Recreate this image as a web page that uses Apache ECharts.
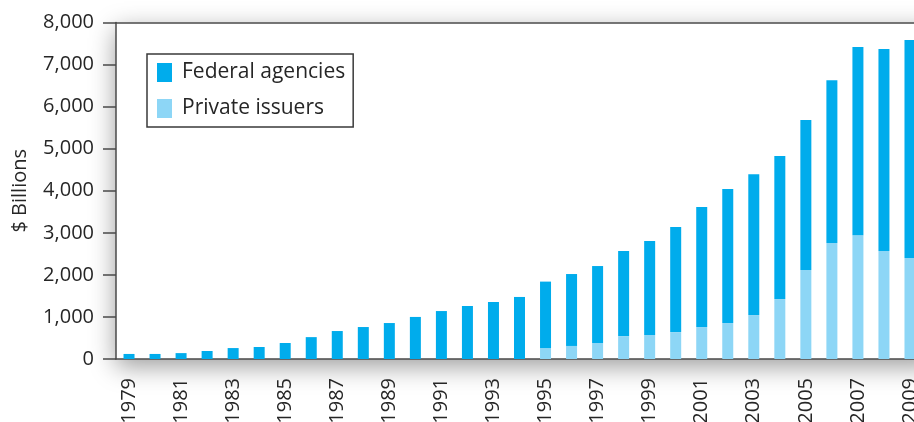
<!DOCTYPE html>
<html>
<head>
<meta charset="utf-8">
<script src="https://cdn.jsdelivr.net/npm/echarts@6/dist/echarts.min.js"></script>
<style>
  html, body { margin: 0; padding: 0; background: #fff; }
  #chart { width: 914px; height: 422px; }
</style>
</head>
<body>
<div id="chart"></div>
<script>
const years = [];
for (let y = 1979; y <= 2009; y++) years.push(String(y));

// total outstanding, $ billions
const totals = [120, 120, 140, 190, 260, 285, 380, 520, 665, 760, 855, 1000, 1140,
  1260, 1355, 1475, 1840, 2020, 2210, 2565, 2805, 3140, 3615, 4040, 4395, 4825,
  5680, 6630, 7415, 7370, 7585];
const privateIssuers = [0, 0, 0, 0, 0, 0, 0, 0, 0, 0, 0, 0, 0,
  0, 0, 0, 260, 310, 380, 545, 570, 640, 760, 855, 1045, 1425,
  2115, 2755, 2945, 2565, 2400];
const federalAgencies = totals.map((t, i) => t - privateIssuers[i]);

const yTicks = [0, 1000, 2000, 3000, 4000, 5000, 6000, 7000, 8000];

const chart = echarts.init(document.getElementById("chart"));
const font = "Open Sans";
const axisColor = "#4a4a4a";
const textColor = "#262626";

const option = {
  animation: false,
  textStyle: { fontFamily: font },
  grid: { left: 116, top: 22.5, width: 807, height: 336.5, outerBoundsMode: "none", containLabel: false },
  graphic: [
    {
      type: "rect",
      z: -10,
      shape: { x: 116, y: 22.5, width: 820, height: 336.5 },
      style: { fill: "#fff", shadowBlur: 24, shadowColor: "rgba(0,0,0,0.4)", shadowOffsetY: 7 },
    },
  ],
  legend: {
    orient: "vertical",
    left: 147,
    top: 54,
    padding: [8, 8, 8, 10],
    itemGap: 15,
    itemWidth: 15,
    itemHeight: 19,
    icon: "rect",
    borderColor: "#3a3a3a",
    borderWidth: 1.5,
    backgroundColor: "#fff",
    textStyle: { fontFamily: font, fontSize: 21, color: textColor, padding: [0, 0, 0, 5] },
    data: ["Federal agencies", "Private issuers"],
  },
  xAxis: [
    {
      type: "category",
      data: years,
      axisLine: { lineStyle: { color: axisColor, width: 1.5 } },
      axisTick: { interval: 0, length: 12, lineStyle: { color: axisColor, width: 1.5 } },
      axisLabel: {
        interval: 1,
        rotate: 90,
        margin: 19,
        fontSize: 20,
        color: textColor,
        fontFamily: font,
      },
    },
    {
      type: "category",
      position: "top",
      data: years,
      axisLine: { lineStyle: { color: axisColor, width: 1.5 } },
      axisTick: { show: false },
      axisLabel: { show: false },
    },
  ],
  yAxis: {
    type: "value",
    min: 0,
    max: 8000,
    interval: 1000,
    name: "$ Billions",
    nameLocation: "middle",
    nameGap: 86,
    nameTextStyle: { fontSize: 20, color: textColor, fontFamily: font },
    axisLine: { show: true, lineStyle: { color: axisColor, width: 1.5 } },
    axisTick: { show: true, length: 13, lineStyle: { color: axisColor, width: 1.5 } },
    splitLine: { show: false },
    axisLabel: {
      margin: 22,
      fontSize: 20,
      color: textColor,
      fontFamily: font,
      formatter: (v) => (yTicks.includes(v) ? v.toLocaleString("en-US") : ""),
    },
  },
  series: [
    {
      name: "Private issuers",
      type: "bar",
      stack: "total",
      barWidth: 11,
      itemStyle: { color: "#8dd6f6" },
      data: privateIssuers,
    },
    {
      name: "Federal agencies",
      type: "bar",
      stack: "total",
      barWidth: 11,
      itemStyle: { color: "#00acec" },
      data: federalAgencies,
    },
  ],
};

chart.setOption(option);
window.addEventListener("resize", () => chart.resize());
</script>
</body>
</html>
